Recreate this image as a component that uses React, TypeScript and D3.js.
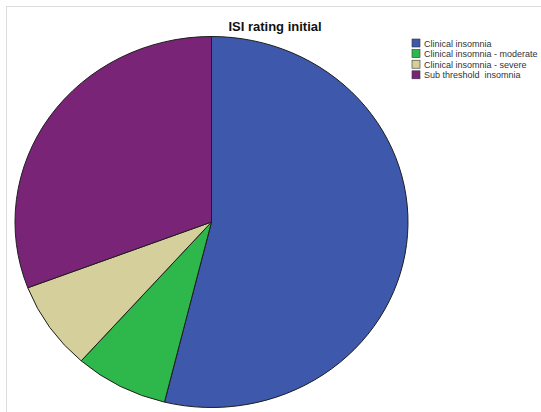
import React from "react";
import * as d3 from "d3";

const categories = [
  "Clinical insomnia",
  "Clinical insomnia - moderate",
  "Clinical insomnia - severe",
  "Sub threshold  insomnia",
];
const counts = [14, 2, 2, 8];
const colors = ["#3E58AC", "#2EB84B", "#D4CF9B", "#7A2477"];
const title = "ISI rating initial";

const W = 541;
const H = 412;

export default function App() {
  const cx = 211.5;
  const cy = 222;
  const ry = 185.5;
  const rx = 196.5;
  const sx = rx / ry;

  const pie = d3.pie<number>().sort(null).value((d) => d);
  const arcs = pie(counts);
  const arc = d3.arc<d3.PieArcDatum<number>>().innerRadius(0).outerRadius(ry);

  const legendX = 412;
  const legendY = 39;
  const rowH = 10.6;

  return (
    <svg
      width={W}
      height={H}
      style={{ position: "absolute", left: 0, top: 0, background: "#fff" }}
      fontFamily="'Liberation Sans', Arial, sans-serif"
    >
      <rect x={6.5} y={6.5} width={W + 10} height={H + 10} fill="#fff" stroke="#dcdcdc" strokeWidth={1} />
      <text x={275} y={31} textAnchor="middle" fontSize={13} fontWeight="bold" fill="#111">
        {title}
      </text>
      <g transform={`translate(${cx},${cy}) scale(${sx},1)`}>
        {arcs.map((a, i) => (
          <path
            key={i}
            d={arc(a) || ""}
            fill={colors[i]}
            stroke="#1e1e1e"
            strokeWidth={1}
            vectorEffect="non-scaling-stroke"
          />
        ))}
      </g>
      <g>
        {categories.map((c, i) => (
          <g key={c} transform={`translate(${legendX},${legendY + i * rowH})`}>
            <rect x={0} y={0} width={8} height={8} fill={colors[i]} stroke="#333" strokeWidth={0.6} />
            <text x={12} y={7.5} fontSize={9} fill="#333" style={{ whiteSpace: "pre" }}>
              {c}
            </text>
          </g>
        ))}
      </g>
    </svg>
  );
}
